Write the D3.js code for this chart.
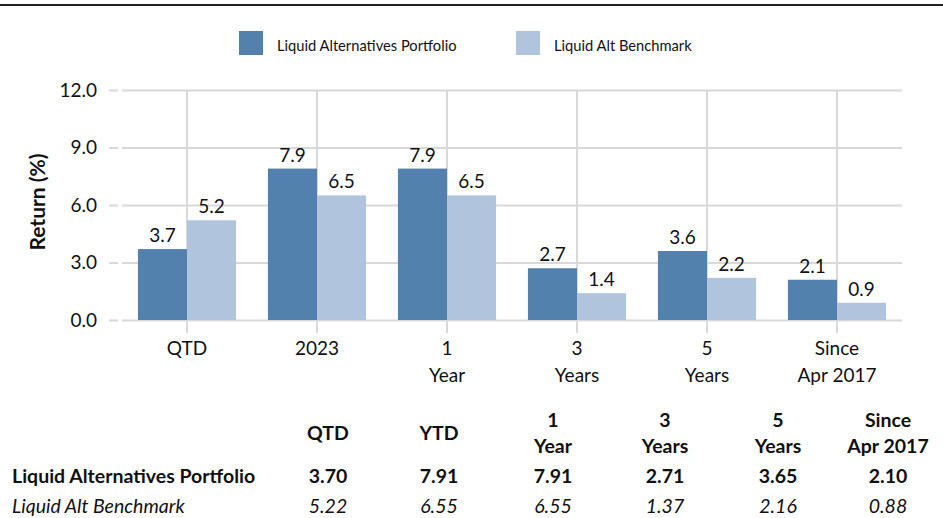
<!DOCTYPE html>
<html>
<head>
<meta charset="utf-8">
<script src="https://cdn.jsdelivr.net/npm/d3@7"></script>
<style>
  html, body { margin: 0; padding: 0; background: #fff; }
  svg { display: block; font-family: Lato, "Open Sans", sans-serif; }
</style>
</head>
<body>
<svg id="chart" width="943" height="518"></svg>
<script>
// Return periods shown on the x axis (line breaks split on "\n")
const categories = ["QTD", "2023", "1\nYear", "3\nYears", "5\nYears", "Since\nApr 2017"];
const seriesNames = ["Liquid Alternatives Portfolio", "Liquid Alt Benchmark"];
const portfolioValues = [3.7, 7.9, 7.9, 2.7, 3.6, 2.1];
const benchmarkValues = [5.2, 6.5, 6.5, 1.4, 2.2, 0.9];
const yTicks = [0, 3, 6, 9, 12];

// Summary table below the chart
const tableHeaders = ["QTD", "YTD", "1\nYear", "3\nYears", "5\nYears", "Since\nApr 2017"];
const tablePortfolio = ["3.70", "7.91", "7.91", "2.71", "3.65", "2.10"];
const tableBenchmark = ["5.22", "6.55", "6.55", "1.37", "2.16", "0.88"];
const tableColumnCenters = [328, 439, 553, 665, 778, 888];

const colors = ["#5381ad", "#b0c4de"];
const gridColor = "#d9d9d9";
const textColor = "#111";
const chartFont = 19;
const tableFont = 19.5;

const svg = d3.select("#chart");

// rule along the top edge
svg.append("rect").attr("x", 0).attr("y", 4).attr("width", 943).attr("height", 2).attr("fill", "#222");

const plot = { left: 122, right: 902, top: 90, bottom: 320 };

const x0 = d3.scaleBand()
  .domain(categories)
  .range([plot.left, plot.right])
  .paddingInner(0.245)
  .paddingOuter(0.1225);

const x1 = d3.scaleBand()
  .domain(d3.range(seriesNames.length))
  .range([0, x0.bandwidth()]);

const y = d3.scaleLinear().domain([0, 12]).range([plot.bottom, plot.top]);

// horizontal grid + y ticks
const yAxis = d3.axisLeft(y)
  .tickValues(yTicks)
  .tickFormat(d3.format(".1f"))
  .tickSize(0)
  .tickPadding(0);

const yg = svg.append("g").attr("transform", `translate(${plot.left},0)`).call(yAxis);
yg.select(".domain").remove();
yg.selectAll(".tick text")
  .attr("x", -25)
  .attr("font-size", chartFont)
  .attr("font-family", "Lato")
  .attr("fill", textColor);
yg.selectAll(".tick").append("line")
  .attr("x1", -13).attr("x2", -4)
  .attr("stroke", gridColor).attr("stroke-width", 2);
yg.selectAll(".tick").append("line")
  .attr("x1", 0).attr("x2", plot.right - plot.left)
  .attr("stroke", gridColor).attr("stroke-width", 2);

// vertical grid at category centres, extending below the baseline as ticks
svg.append("g").selectAll("line")
  .data(categories)
  .join("line")
  .attr("x1", d => x0(d) + x0.bandwidth() / 2)
  .attr("x2", d => x0(d) + x0.bandwidth() / 2)
  .attr("y1", plot.top)
  .attr("y2", plot.bottom + 13)
  .attr("stroke", gridColor)
  .attr("stroke-width", 2);

// bars
const rows = categories.map((c, i) => ({ cat: c, vals: [portfolioValues[i], benchmarkValues[i]] }));

const groups = svg.append("g").selectAll("g")
  .data(rows)
  .join("g")
  .attr("transform", d => `translate(${x0(d.cat)},0)`);

groups.selectAll("rect")
  .data(d => d.vals.map((v, k) => ({ v, k })))
  .join("rect")
  .attr("x", d => x1(d.k))
  .attr("width", x1.bandwidth())
  .attr("y", d => y(d.v))
  .attr("height", d => y(0) - y(d.v))
  .attr("fill", d => colors[d.k]);

groups.selectAll("text.val")
  .data(d => d.vals.map((v, k) => ({ v, k })))
  .join("text")
  .attr("class", "val")
  .attr("x", d => x1(d.k) + x1.bandwidth() / 2)
  .attr("y", d => y(d.v) - 7)
  .attr("text-anchor", "middle")
  .attr("font-size", chartFont)
  .attr("fill", textColor)
  .text(d => d3.format(".1f")(d.v));

// x axis category labels
const xl = svg.append("g").selectAll("text")
  .data(categories)
  .join("text")
  .attr("x", d => x0(d) + x0.bandwidth() / 2)
  .attr("y", 355)
  .attr("text-anchor", "middle")
  .attr("font-size", chartFont)
  .attr("fill", textColor);
xl.selectAll("tspan")
  .data(d => d.split("\n"))
  .join("tspan")
  .attr("x", function () { return d3.select(this.parentNode).attr("x"); })
  .attr("dy", (d, i) => i === 0 ? 0 : 27)
  .text(d => d);

// y axis title
svg.append("text")
  .attr("transform", "translate(45,202) rotate(-90)")
  .attr("text-anchor", "middle")
  .attr("font-size", 21)
  .attr("font-weight", "bold")
  .attr("fill", textColor)
  .text("Return (%)");

// legend
const legendItems = [
  { name: seriesNames[0], color: colors[0], x: 239, tx: 277 },
  { name: seriesNames[1], color: colors[1], x: 516, tx: 554 }
];
const lg = svg.append("g").selectAll("g").data(legendItems).join("g");
lg.append("rect")
  .attr("x", d => d.x).attr("y", 31)
  .attr("width", 24).attr("height", 24)
  .attr("fill", d => d.color);
lg.append("text")
  .attr("x", d => d.tx).attr("y", 51)
  .attr("font-size", 14.7)
  .attr("fill", textColor)
  .text(d => d.name);

// summary table
const table = svg.append("g");
const headerText = table.selectAll("text.hdr")
  .data(tableHeaders)
  .join("text")
  .attr("class", "hdr")
  .attr("x", (d, i) => tableColumnCenters[i])
  .attr("y", d => d.includes("\n") ? 427 : 440)
  .attr("text-anchor", "middle")
  .attr("font-size", tableFont)
  .attr("font-weight", "bold")
  .attr("fill", textColor);
headerText.selectAll("tspan")
  .data(d => d.split("\n"))
  .join("tspan")
  .attr("x", function () { return d3.select(this.parentNode).attr("x"); })
  .attr("dy", (d, i) => i === 0 ? 0 : 26)
  .text(d => d);

const tableRows = [
  { label: seriesNames[0], vals: tablePortfolio, y: 483, weight: "bold", style: "normal" },
  { label: seriesNames[1], vals: tableBenchmark, y: 513, weight: "normal", style: "italic" }
];
tableRows.forEach(r => {
  table.append("text")
    .attr("x", 12).attr("y", r.y)
    .attr("font-size", tableFont)
    .attr("font-weight", r.weight)
    .attr("font-style", r.style)
    .attr("fill", textColor)
    .text(r.label);
  table.selectAll(null)
    .data(r.vals)
    .join("text")
    .attr("x", (d, i) => tableColumnCenters[i])
    .attr("y", r.y)
    .attr("text-anchor", "middle")
    .attr("font-size", tableFont)
    .attr("font-weight", r.weight)
    .attr("font-style", r.style)
    .attr("fill", textColor)
    .text(d => d);
});
</script>
</body>
</html>
